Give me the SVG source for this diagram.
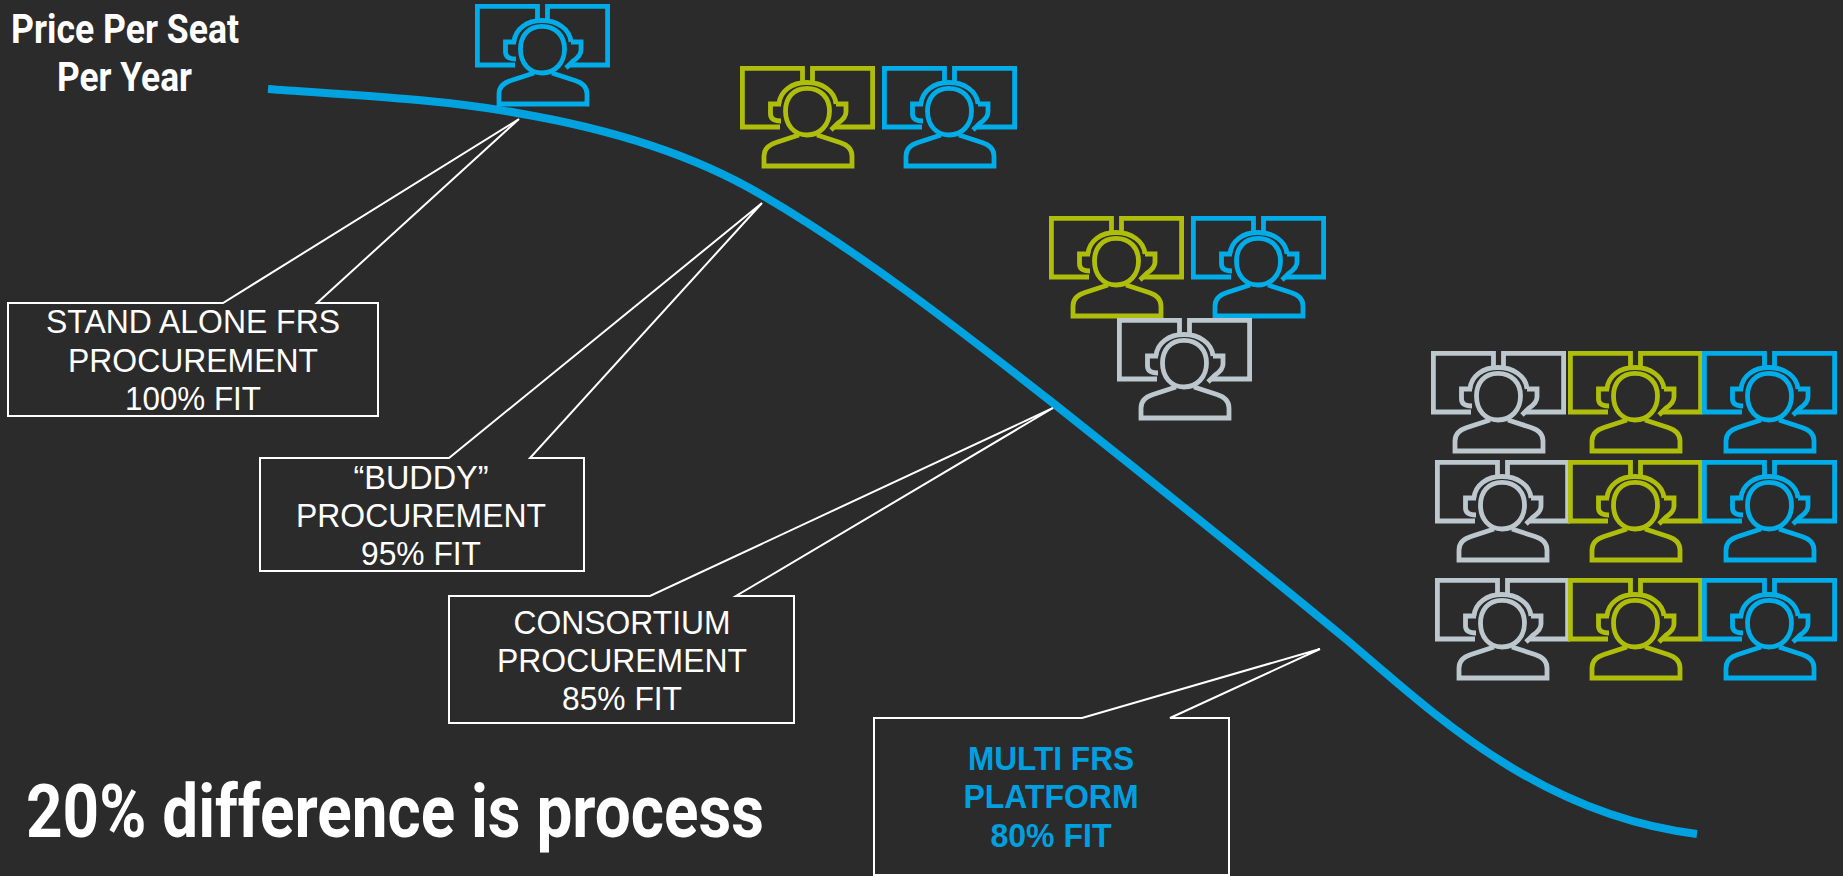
<svg xmlns="http://www.w3.org/2000/svg" width="1843" height="876" viewBox="0 0 1843 876">
<style>
.bg{fill:#2b2b2b}
.i{fill:none;stroke:currentColor;stroke-width:4.8;stroke-linejoin:miter}
.b{color:#00ade8}.g{color:#afbe0a}.s{color:#bcc8ce}
.c{fill:none;stroke:#fff;stroke-width:2}
.t{font-family:"Liberation Sans",Arial,sans-serif;font-size:34px;fill:#fff;text-anchor:middle}
.m{font-weight:700;fill:#00a0e0}
.h{font-family:Roboto,sans-serif;font-weight:700;fill:#fff}
.curve{fill:none;stroke:#00a3e0;stroke-width:8}
</style>
<defs>
<g id="agent" class="i">
<path d="M40,61H2.400V2.400H62.500V15M72.500,15V2.400H132.600V61H95"/>
<path d="M39,38C40,25 52,16.500 67,16.500C82,16.500 95,25 96,38"/>
<path d="M41,38H30.500V48C30.500,53 34,55 41,55"/>
<path d="M96,38H106V46C106,52 101,55 98,57L91,64"/>
<path d="M67,22.300C81,22.300 89.500,32 89.500,45C89.500,59 80,69 67,69C54,69 45.500,59 45.500,45C45.500,32 53,22.300 67,22.300Z"/>
<path d="M59,69L36,76.500C28,79 24,84 24,90V100H112V90C112,84 108,79 100,76.500L77,69"/>
</g>
</defs>
<rect class="bg" width="1843" height="876"/>
<g id="connectors">
<path class="curve" d="M268,89C350,95 440,99 517,113C600,127 685,150 760,194C860,252 960,330 1053,403C1150,480 1250,560 1347,640C1435,715 1540,815 1697,834"/>
</g>
<g id="title"><text class="h" font-size="40" x="125" y="43" text-anchor="middle" textLength="228" lengthAdjust="spacingAndGlyphs">Price Per Seat</text>
<text class="h" font-size="40" x="124.500" y="91" text-anchor="middle" textLength="135" lengthAdjust="spacingAndGlyphs">Per Year</text></g>
<g id="agent-1"><use href="#agent" x="475" y="4" class="b"/></g>
<g id="agent-2"><use href="#agent" x="740" y="66" class="g"/></g>
<g id="agent-3"><use href="#agent" x="882" y="66" class="b"/></g>
<g id="agent-4"><use href="#agent" x="1049" y="216" class="g"/></g>
<g id="agent-5"><use href="#agent" x="1191" y="216" class="b"/></g>
<g id="agent-6"><use href="#agent" x="1117" y="318" class="s"/></g>
<g id="agent-7"><use href="#agent" x="1431" y="351" class="s"/></g>
<g id="agent-8"><use href="#agent" x="1568" y="351" class="g"/></g>
<g id="agent-9"><use href="#agent" x="1702" y="351" class="b"/></g>
<g id="agent-10"><use href="#agent" x="1435" y="460" class="s"/></g>
<g id="agent-11"><use href="#agent" x="1568" y="460" class="g"/></g>
<g id="agent-12"><use href="#agent" x="1702" y="460" class="b"/></g>
<g id="agent-13"><use href="#agent" x="1435" y="578" class="s"/></g>
<g id="agent-14"><use href="#agent" x="1568" y="578" class="g"/></g>
<g id="agent-15"><use href="#agent" x="1702" y="578" class="b"/></g>
<g id="callout-1"><path class="c" d="M8,303H223L519,119L317,303H378V416H8Z"/>
<text class="t" x="193" y="333" textLength="294" lengthAdjust="spacingAndGlyphs">STAND ALONE FRS</text><text class="t" x="193" y="372" textLength="250" lengthAdjust="spacingAndGlyphs">PROCUREMENT</text><text class="t" x="193" y="410" textLength="136" lengthAdjust="spacingAndGlyphs">100% FIT</text></g>
<g id="callout-2"><path class="c" d="M260,458H449L762,203L530,458H584V571H260Z"/>
<text class="t" x="421" y="489" textLength="135" lengthAdjust="spacingAndGlyphs">“BUDDY”</text><text class="t" x="421" y="527" textLength="250" lengthAdjust="spacingAndGlyphs">PROCUREMENT</text><text class="t" x="421" y="565" textLength="120" lengthAdjust="spacingAndGlyphs">95% FIT</text></g>
<g id="callout-3"><path class="c" d="M449,596H650L1053,408L736,596H794V723H449Z"/>
<text class="t" x="622" y="634" textLength="217" lengthAdjust="spacingAndGlyphs">CONSORTIUM</text><text class="t" x="622" y="672" textLength="250" lengthAdjust="spacingAndGlyphs">PROCUREMENT</text><text class="t" x="622" y="710" textLength="120" lengthAdjust="spacingAndGlyphs">85% FIT</text></g>
<g id="callout-4"><path class="c" d="M874,718H1082L1320,649L1170,718H1229V875H874Z"/>
<text class="t m" x="1051" y="770" textLength="166" lengthAdjust="spacingAndGlyphs">MULTI FRS</text><text class="t m" x="1051" y="808" textLength="175" lengthAdjust="spacingAndGlyphs">PLATFORM</text><text class="t m" x="1051" y="847" textLength="121" lengthAdjust="spacingAndGlyphs">80% FIT</text></g>
<g id="note"><text class="h" font-size="74" x="26" y="837" textLength="738" lengthAdjust="spacingAndGlyphs">20% difference is process</text></g>
</svg>
